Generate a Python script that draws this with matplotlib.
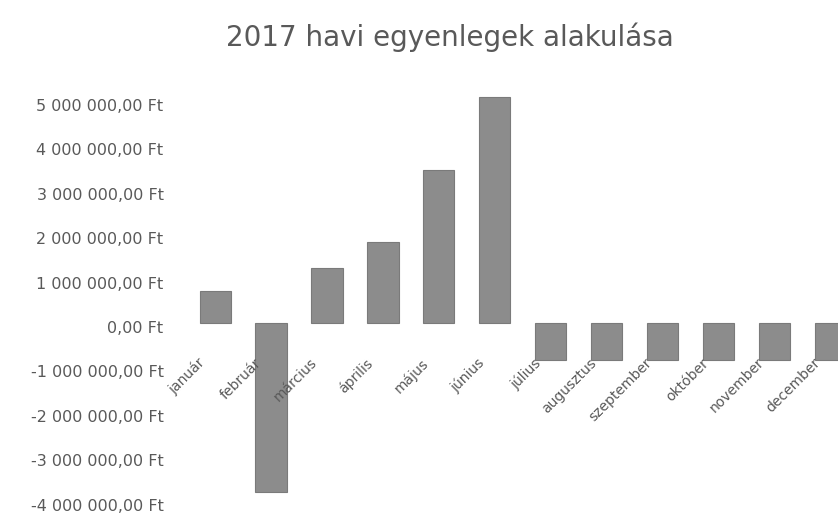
import matplotlib.pyplot as plt
from matplotlib.transforms import ScaledTranslation

# havi egyenlegek (Ft)
months = ['január', 'február', 'március', 'április', 'május', 'június',
          'július', 'augusztus', 'szeptember', 'október', 'november', 'december']
balances = [720000, -3800000, 1240000, 1820000, 3450000, 5090000,
            -830000, -830000, -830000, -830000, -830000, -830000]
y_ticks = [5000000, 4000000, 3000000, 2000000, 1000000, 0,
           -1000000, -2000000, -3000000, -4000000]


def ft_label(v):
    if v == 0:
        return '0,00 Ft'
    s = f'{abs(v):,}'.replace(',', ' ')
    return ('-' if v < 0 else '') + s + ',00 Ft'


fig = plt.figure(figsize=(8.38, 5.13), dpi=100)
ax = fig.add_axes([190 / 838, 0.0, 1 - 190 / 838, 1 - 85 / 513])

x = list(range(len(months)))
ax.bar(x, balances, width=0.56, color='#8c8c8c', edgecolor='#7a7a7a', linewidth=0.8)

ax.set_xlim(-0.45, 11.14)
ax.set_ylim(-4280000, 5360000)

# month labels next to the zero line, rotated
for i, m in enumerate(months):
    ax.text(i - 0.22, -850000, m, rotation=45, rotation_mode='anchor',
            ha='right', va='center', fontsize=10, color='#595959')

ax.set_xticks([])
ax.set_yticks(y_ticks)
ax.set_yticklabels([ft_label(v) for v in y_ticks], fontsize=11.5, color='#595959')
ax.tick_params(axis='y', length=0, pad=19)
for lab in ax.get_yticklabels():
    lab.set_transform(lab.get_transform() + ScaledTranslation(0, -4 / 100, fig.dpi_scale_trans))

for sp in ax.spines.values():
    sp.set_visible(False)

fig.text(450 / 838, 1 - 37 / 513, '2017 havi egyenlegek alakulása',
         ha='center', va='center', fontsize=20, color='#595959')

fig.savefig('out.png', dpi=100)
